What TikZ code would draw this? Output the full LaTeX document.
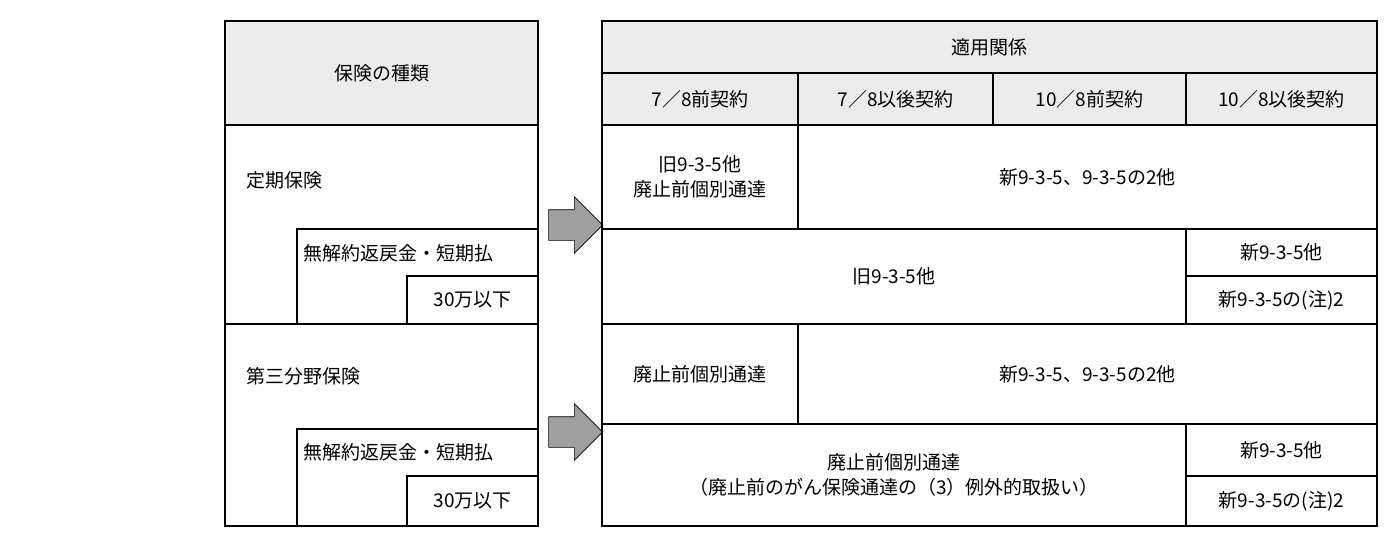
\documentclass[tikz,border=0pt]{standalone}
\usepackage{fontspec}
\setmainfont{Noto Sans CJK JP}
\usetikzlibrary{positioning,shapes.arrows}

\begin{document}
\begin{tikzpicture}[
    x=1pt, y=-1pt,
    every node/.style={font=\fontsize{19}{25}\selectfont},
    cell/.style={
        rectangle,
        draw=black,
        line width=2pt,
        anchor=north west,
        inner sep=0pt,
        align=center
    },
    head/.style={cell, fill=gray!15},
    label/.style={anchor=west, inner sep=0pt},
    bigarrow/.style={
        single arrow,
        draw=black,
        fill=gray!75,
        line width=0.6pt,
        minimum height=54pt,
        inner xsep=0pt,
        inner ysep=15pt,
        single arrow head extend=13pt
    }
]
    \useasboundingbox (0,0) rectangle (1400,550);

    % Left table
    \node[head, minimum width=313pt, minimum height=104pt] (kind) at (224,20) {保険の種類};
    \node[cell, minimum width=313pt, minimum height=199pt] (teiki) at (224,124) {};
    \node[cell, minimum width=241pt, minimum height=95pt] (teikiA) at (296,228) {};
    \node[cell, minimum width=131pt, minimum height=48pt] (teikiB) at (406,275) {30万以下};
    \node[cell, minimum width=313pt, minimum height=202pt] (dai3) at (224,323) {};
    \node[cell, minimum width=241pt, minimum height=97pt] (dai3A) at (296,428) {};
    \node[cell, minimum width=131pt, minimum height=50pt] (dai3B) at (406,475) {30万以下};
    \node[label] (teikiT) at (246,180) {定期保険};
    \node[label] (teikiAT) at (303,253) {無解約返戻金・短期払};
    \node[label] (dai3T) at (246,376) {第三分野保険};
    \node[label] (dai3AT) at (303,452) {無解約返戻金・短期払};

    % Arrows
    \node[bigarrow] (arrA) at (568,225) {};
    \node[bigarrow] (arrB) at (568,432) {};

    % Right table: header
    \node[head, minimum width=775pt, minimum height=52pt] (rel) at (601,20) {適用関係};
    \node[head, minimum width=196pt, minimum height=52pt] (c1) at (601,72) {7／8前契約};
    \node[head, minimum width=195pt, minimum height=52pt] (c2) at (797,72) {7／8以後契約};
    \node[head, minimum width=193pt, minimum height=52pt] (c3) at (992,72) {10／8前契約};
    \node[head, minimum width=191pt, minimum height=52pt] (c4) at (1185,72) {10／8以後契約};

    % Right table: rows
    \node[cell, minimum width=196pt, minimum height=104pt] (r1a) at (601,124) {旧9-3-5他\\廃止前個別通達};
    \node[cell, minimum width=579pt, minimum height=104pt] (r1b) at (797,124) {新9-3-5、9-3-5の2他};
    \node[cell, minimum width=584pt, minimum height=95pt] (r2a) at (601,228) {旧9-3-5他};
    \node[cell, minimum width=191pt, minimum height=47pt] (r2b) at (1185,228) {新9-3-5他};
    \node[cell, minimum width=191pt, minimum height=48pt] (r2c) at (1185,275) {新9-3-5の(注)2};
    \node[cell, minimum width=196pt, minimum height=100pt] (r3a) at (601,323) {廃止前個別通達};
    \node[cell, minimum width=579pt, minimum height=100pt] (r3b) at (797,323) {新9-3-5、9-3-5の2他};
    \node[cell, minimum width=584pt, minimum height=102pt] (r4a) at (601,423) {廃止前個別通達\\（廃止前のがん保険通達の（3）例外的取扱い）};
    \node[cell, minimum width=191pt, minimum height=52pt] (r4b) at (1185,423) {新9-3-5他};
    \node[cell, minimum width=191pt, minimum height=50pt] (r4c) at (1185,475) {新9-3-5の(注)2};
\end{tikzpicture}
\end{document}
